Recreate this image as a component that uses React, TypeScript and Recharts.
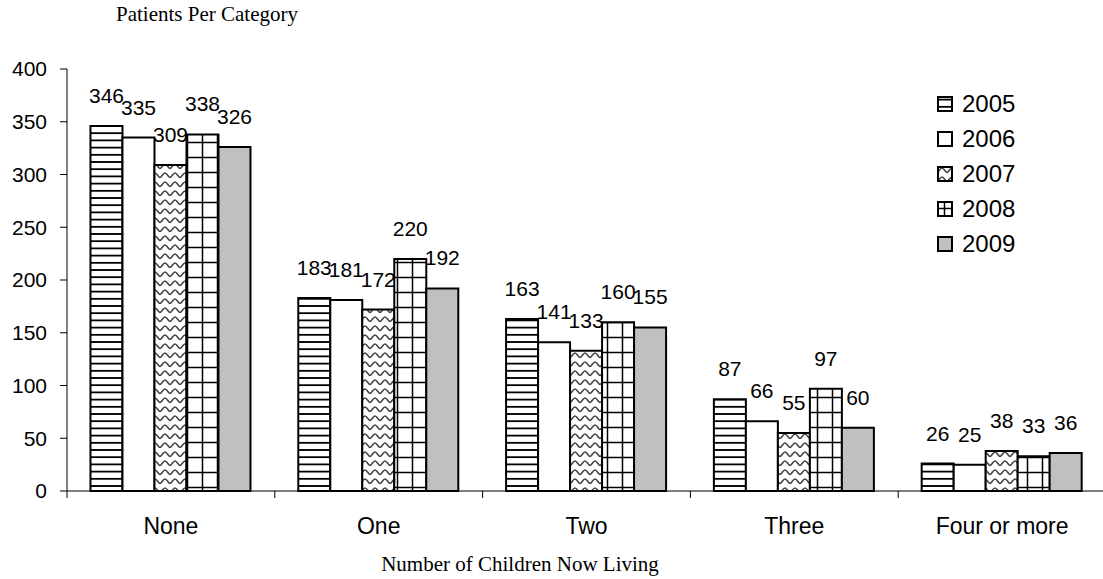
import React from 'react';
import { BarChart, Bar, XAxis, YAxis, Legend, LabelList } from 'recharts';

const categories = ['None', 'One', 'Two', 'Three', 'Four or more'];
const years = ['2005', '2006', '2007', '2008', '2009'];
const v2005 = [346, 183, 163, 87, 26];
const v2006 = [335, 181, 141, 66, 25];
const v2007 = [309, 172, 133, 55, 38];
const v2008 = [338, 220, 160, 97, 33];
const v2009 = [326, 192, 155, 60, 36];
const yTicks = [0, 50, 100, 150, 200, 250, 300, 350, 400];

const series = [v2005, v2006, v2007, v2008, v2009];
const data = categories.map((name, i) => {
  const row: Record<string, string | number> = { name };
  years.forEach((y, s) => {
    row['y' + y] = series[s][i];
  });
  return row;
});

const SANS = '"Liberation Sans", Arial, sans-serif';
const SERIF = '"Liberation Serif", "Times New Roman", serif';

const CHART_W = 1110;
const CHART_H = 579;
const MARGIN = { top: 69, right: 4, left: 0, bottom: 0 };
const Y_AXIS_W = 67;
// width of one category band, used for the between-category ticks
const BAND = (CHART_W - MARGIN.right - MARGIN.left - Y_AXIS_W) / categories.length;

function CategoryTick(props: any) {
  const { x, y, payload } = props;
  const left = x - BAND / 2;
  return (
    <g>
      <line x1={left} y1={y} x2={left} y2={y + 7} stroke="#000" strokeWidth={1} />
      <text
        x={x}
        y={y + 43}
        textAnchor="middle"
        fontSize={23}
        fontFamily={SANS}
        fill="#000"
      >
        {payload.value}
      </text>
    </g>
  );
}

function LegendContent(props: any) {
  const { payload = [] } = props;
  return (
    <div style={{ display: 'flex', flexDirection: 'column' }}>
      {payload.map((entry: any) => (
        <div
          key={entry.value}
          style={{ display: 'flex', alignItems: 'center', height: 35 }}
        >
          <svg width={16} height={16} style={{ marginRight: 9 }}>
            <rect
              x={1}
              y={1}
              width={14}
              height={14}
              fill={`url(#p${entry.value})`}
              stroke="#000"
              strokeWidth={2}
            />
          </svg>
          <span style={{ fontFamily: SANS, fontSize: 24, color: '#000' }}>
            {entry.value}
          </span>
        </div>
      ))}
    </div>
  );
}

const labelStyle = { fontSize: 21, fontFamily: SANS, fill: '#000' };

export default function App() {
  return (
    <div
      style={{
        position: 'absolute',
        left: 0,
        top: 0,
        width: 1103,
        height: 579,
        overflow: 'hidden',
        background: '#fff',
      }}
    >
      <div
        style={{
          position: 'absolute',
          left: 57,
          top: 4,
          width: 300,
          textAlign: 'center',
          fontFamily: SERIF,
          fontSize: 21,
          lineHeight: '21px',
          color: '#000',
        }}
      >
        Patients Per Category
      </div>
      <div
        style={{
          position: 'absolute',
          left: 320,
          top: 554,
          width: 400,
          textAlign: 'center',
          fontFamily: SERIF,
          fontSize: 21,
          lineHeight: '21px',
          color: '#000',
        }}
      >
        Number of Children Now Living
      </div>
      <BarChart
        width={CHART_W}
        height={CHART_H}
        data={data}
        margin={MARGIN}
        barCategoryGap="11.3%"
        barGap={0}
      >
        <defs>
          <pattern id="p2005" patternUnits="userSpaceOnUse" width={8} height={7.2}>
            <rect width={8} height={7.2} fill="#fff" />
            <line x1={0} y1={3.6} x2={8} y2={3.6} stroke="#000" strokeWidth={1.8} />
          </pattern>
          <pattern id="p2006" patternUnits="userSpaceOnUse" width={8} height={8}>
            <rect width={8} height={8} fill="#fff" />
          </pattern>
          <pattern id="p2007" patternUnits="userSpaceOnUse" width={10} height={9}>
            <rect width={10} height={9} fill="#fff" />
            <path
              d="M0 6.5 C1.5 6.5 3 2 5 2 C7 2 8.5 6.5 10 6.5"
              fill="none"
              stroke="#444"
              strokeWidth={1.6}
            />
          </pattern>
          <pattern id="p2008" patternUnits="userSpaceOnUse" width={15} height={15}>
            <rect width={15} height={15} fill="#fff" />
            <line x1={7.5} y1={0} x2={7.5} y2={15} stroke="#000" strokeWidth={1.5} />
            <line x1={0} y1={7.5} x2={15} y2={7.5} stroke="#000" strokeWidth={1.5} />
          </pattern>
          <pattern id="p2009" patternUnits="userSpaceOnUse" width={8} height={8}>
            <rect width={8} height={8} fill="#c0c0c0" />
          </pattern>
        </defs>
        <XAxis
          dataKey="name"
          height={88}
          axisLine={{ stroke: '#000', strokeWidth: 1 }}
          tickLine={false}
          tickSize={0}
          tickMargin={0}
          interval={0}
          tick={<CategoryTick />}
        />
        <YAxis
          width={Y_AXIS_W}
          domain={[0, 400]}
          ticks={yTicks}
          interval={0}
          axisLine={{ stroke: '#000', strokeWidth: 1 }}
          tickLine={{ stroke: '#000', strokeWidth: 1 }}
          tickSize={7}
          tickMargin={13}
          tick={{ fontSize: 21, fontFamily: SANS, fill: '#000' }}
        />
        <Legend
          layout="vertical"
          align="center"
          verticalAlign="middle"
          wrapperStyle={{ left: 937, top: 86, width: 110, height: 180 }}
          content={<LegendContent />}
        />
        {years.map((y) => (
          <Bar
            key={y}
            dataKey={'y' + y}
            name={y}
            fill={`url(#p${y})`}
            stroke="#000"
            strokeWidth={2}
            isAnimationActive={false}
          >
            <LabelList dataKey={'y' + y} position="top" offset={23} style={labelStyle} />
          </Bar>
        ))}
      </BarChart>
    </div>
  );
}
